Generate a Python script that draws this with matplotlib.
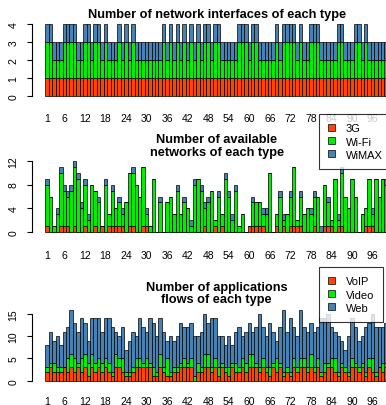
import matplotlib
matplotlib.use("Agg")
import matplotlib.pyplot as plt
import numpy as np

plt.rcParams["font.family"] = ["Liberation Sans", "DejaVu Sans"]

# ---- data -------------------------------------------------------------
bars = np.arange(1, 101)
tick_labels = [1, 6, 12, 18, 24, 30, 36, 42, 48, 54, 60, 66, 72, 78, 84, 90, 96]

# panel 1: network interfaces of each type
if_3g = [1, 1, 1, 1, 1, 1, 1, 1, 1, 1, 1, 1, 1, 1, 1, 1, 1, 1, 1, 1,
         1, 1, 1, 1, 1, 1, 1, 1, 1, 1, 1, 1, 1, 1, 1, 1, 1, 1, 1, 1,
         1, 1, 1, 1, 1, 1, 1, 1, 1, 1, 1, 1, 1, 1, 1, 1, 1, 1, 1, 1,
         1, 1, 1, 1, 1, 1, 1, 1, 1, 1, 1, 1, 1, 1, 1, 1, 1, 1, 1, 1,
         1, 1, 1, 1, 1, 1, 1, 1, 1, 1, 1, 1, 1, 1, 1, 1, 1, 1, 1, 1]
if_wifi = [2, 2, 1, 1, 1, 2, 2, 2, 2, 1, 1, 2, 2, 1, 2, 2, 1, 2, 1, 1,
           1, 2, 1, 2, 1, 2, 1, 1, 1, 1, 1, 1, 1, 1, 2, 1, 2, 1, 2, 1,
           2, 1, 2, 1, 2, 1, 2, 2, 1, 2, 2, 1, 1, 1, 1, 1, 2, 2, 2, 1,
           2, 2, 1, 1, 1, 1, 1, 2, 1, 2, 2, 2, 2, 1, 2, 1, 1, 2, 2, 2,
           1, 1, 1, 1, 1, 2, 2, 1, 1, 1, 2, 2, 1, 2, 1, 1, 1, 1, 1, 1]
if_wimax = [1, 1, 1, 1, 1, 1, 1, 1, 1, 1, 1, 1, 1, 1, 1, 1, 1, 1, 1, 1,
            1, 1, 1, 1, 1, 1, 1, 1, 1, 1, 1, 1, 1, 1, 1, 1, 1, 1, 1, 1,
            1, 1, 1, 1, 1, 1, 1, 1, 1, 1, 1, 1, 1, 1, 1, 1, 1, 1, 1, 1,
            1, 1, 1, 1, 1, 1, 1, 1, 1, 1, 1, 1, 1, 1, 1, 1, 1, 1, 1, 1,
            1, 1, 1, 1, 1, 1, 1, 1, 1, 1, 1, 1, 1, 1, 1, 1, 1, 1, 1, 1]

# panel 2: available networks of each type
net_3g = [1, 0, 0, 0, 1, 1, 1, 0, 1, 0, 0, 1, 0, 0, 1, 0, 1, 0, 1, 1,
          1, 1, 1, 0, 1, 1, 0, 0, 1, 1, 0, 0, 0, 0, 0, 0, 0, 0, 0, 0,
          0, 0, 0, 0, 0, 0, 1, 0, 0, 1, 0, 1, 0, 0, 0, 0, 0, 0, 0, 1,
          1, 1, 1, 1, 0, 0, 0, 1, 0, 1, 0, 1, 1, 1, 1, 0, 0, 0, 1, 0,
          0, 1, 1, 1, 0, 1, 1, 0, 0, 0, 0, 0, 0, 1, 1, 1, 0, 0, 0, 0]
net_wifi = [7, 6, 1, 3, 9, 6, 5, 7, 10, 9, 4, 7, 2, 8, 6, 5, 0, 8, 2, 6,
            3, 4, 2, 5, 9, 9, 8, 6, 10, 2, 1, 9, 0, 5, 0, 5, 6, 3, 7, 3,
            5, 4, 1, 8, 9, 7, 3, 5, 7, 1, 6, 2, 9, 6, 2, 7, 1, 3, 0, 0,
            4, 4, 4, 2, 3, 10, 0, 2, 6, 1, 3, 5, 10, 1, 5, 3, 4, 3, 5, 6,
            0, 7, 4, 1, 9, 1, 9, 6, 4, 9, 6, 0, 3, 3, 8, 2, 9, 6, 9, 8]
net_wimax = [1, 0, 0, 1, 1, 1, 1, 1, 1, 1, 1, 1, 1, 0, 0, 1, 0, 1, 0, 1,
             0, 1, 1, 0, 0, 1, 0, 0, 0, 1, 0, 0, 0, 1, 0, 0, 0, 0, 1, 0,
             1, 0, 1, 1, 0, 1, 1, 1, 0, 0, 1, 0, 1, 1, 1, 1, 0, 0, 0, 0,
             1, 0, 0, 1, 1, 0, 0, 0, 1, 1, 0, 1, 0, 0, 1, 0, 0, 1, 1, 0,
             1, 0, 1, 0, 0, 1, 1, 0, 0, 0, 0, 0, 0, 0, 0, 1, 0, 0, 0, 1]

# panel 3: application flows of each type
app_voip = [2, 3, 2, 2, 2, 3, 2, 3, 2, 3, 2, 3, 1, 3, 2, 3, 2, 3, 2, 1,
            3, 3, 2, 1, 1, 2, 3, 3, 3, 3, 3, 1, 1, 3, 2, 1, 1, 2, 2, 3,
            3, 3, 3, 0, 2, 2, 3, 3, 2, 3, 1, 3, 2, 1, 3, 2, 2, 3, 2, 3,
            3, 3, 2, 3, 2, 1, 3, 2, 3, 1, 2, 1, 3, 2, 3, 3, 2, 3, 2, 3,
            1, 2, 3, 3, 2, 1, 3, 2, 1, 3, 3, 2, 3, 1, 3, 2, 1, 3, 2, 3]
app_video = [1, 1, 2, 1, 1, 0, 3, 3, 3, 1, 3, 3, 3, 3, 2, 2, 2, 2, 2, 1,
             3, 2, 3, 1, 1, 1, 2, 2, 1, 2, 1, 2, 1, 3, 1, 4, 1, 1, 1, 1,
             2, 1, 2, 1, 2, 1, 3, 3, 1, 2, 2, 1, 1, 2, 1, 2, 1, 2, 2, 3,
             3, 1, 1, 2, 1, 2, 1, 3, 1, 1, 1, 1, 2, 1, 2, 2, 1, 3, 1, 2,
             1, 2, 1, 2, 3, 1, 1, 1, 1, 2, 1, 1, 1, 1, 2, 3, 1, 0, 2, 1]
app_total = [8, 11, 9, 10, 8, 11, 12, 16, 13, 11, 14, 13, 9, 14, 14, 14, 11, 14, 14, 12,
             11, 10, 12, 7, 9, 11, 10, 14, 12, 11, 14, 13, 10, 14, 11, 9, 10, 9, 10, 13,
             12, 12, 13, 10, 10, 11, 15, 13, 14, 14, 10, 10, 8, 10, 8, 11, 12, 10, 11, 13,
             11, 12, 15, 12, 10, 13, 11, 9, 12, 16, 11, 14, 12, 10, 16, 12, 11, 13, 11, 12,
             14, 14, 15, 12, 11, 10, 9, 7, 10, 14, 12, 9, 10, 12, 13, 15, 12, 12, 12, 13]
app_web = [t - v - d for t, v, d in zip(app_total, app_voip, app_video)]

colors = ["#ff4500", "#00ee00", "#4682b4"]

# ---- figure -------------------------------------------------------------
W, H = 386, 406
fig = plt.figure(figsize=(W / 100, H / 100), dpi=100)


def add_axes(top, bottom):
    # x extent shared by all panels, in pixels
    left, right = 31.8, 401.6
    return fig.add_axes([left / W, 1 - bottom / H, (right - left) / W, (bottom - top) / H])


def panel(ax, series, labels, ymax, yticks, title, pad, xpad=10.5):
    bottom = np.zeros(len(bars))
    for vals, c, lab in zip(series, colors, labels):
        ax.bar(bars, vals, width=1.0, bottom=bottom, color=c,
               edgecolor="black", linewidth=0.5, label=lab)
        bottom += np.array(vals)
    ax.set_xlim(-3.5, 104.5)
    ax.set_ylim(-0.04 * ymax, 1.04 * ymax)
    for s in ["top", "right", "bottom"]:
        ax.spines[s].set_visible(False)
    ax.spines["left"].set_bounds(yticks[0], yticks[-1])
    ax.spines["left"].set_linewidth(0.8)
    ax.set_yticks(yticks)
    ax.set_yticklabels([str(t) for t in yticks], rotation=90, va="center")
    ax.tick_params(axis="y", direction="out", length=3.6, width=0.8, pad=6, labelsize=7.5)
    ax.set_xticks(tick_labels)
    ax.set_xticklabels([str(t) for t in tick_labels])
    ax.tick_params(axis="x", length=0, pad=xpad, labelsize=7.5)
    ax.set_title(title, fontsize=9.2, fontweight="bold", pad=pad, linespacing=1.05)


ax1 = add_axes(22.1, 99.9)
panel(ax1, [if_3g, if_wifi, if_wimax], ["3G", "Wi-Fi", "WiMAX"], 4, [0, 1, 2, 3, 4],
      "Number of network interfaces of each type", 3)

ax2 = add_axes(158.8, 236.2)
panel(ax2, [net_3g, net_wifi, net_wimax], ["3G", "Wi-Fi", "WiMAX"], 12, [0, 4, 8, 12],
      "Number of available\nnetworks of each type", -2)

ax3 = add_axes(307.7, 384.5)
panel(ax3, [app_voip, app_video, app_web], ["VoIP", "Video", "Web"], 16, [0, 5, 10, 15],
      "Number of applications\nflows of each type", 3.2, xpad=9)

for ax, top in [(ax2, 115), (ax3, 268)]:
    leg = ax.legend(loc="upper left", bbox_to_anchor=(319 / W, 1 - top / H),
                    bbox_transform=fig.transFigure, fontsize=8, frameon=True,
                    fancybox=False, borderpad=0.85, labelspacing=0.28,
                    handlelength=0.6, handleheight=0.6, handletextpad=0.95,
                    borderaxespad=0)
    leg.get_frame().set_edgecolor("black")
    leg.get_frame().set_linewidth(0.8)
    leg.set_zorder(5)

fig.savefig("out.png", dpi=100)
